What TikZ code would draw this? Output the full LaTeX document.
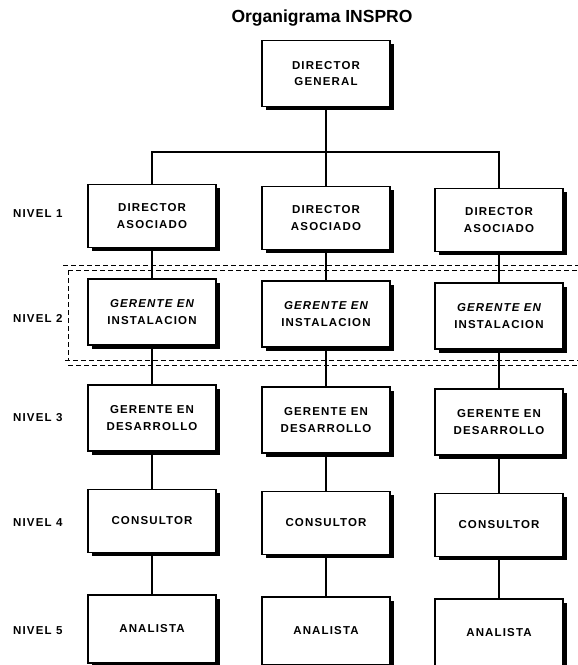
\documentclass[tikz,border=0pt]{standalone}
\usepackage{fontspec}
\setmainfont{Liberation Sans}
\usetikzlibrary{shadows}
\newcommand\orgfont{\fontsize{11.5}{16.5}\selectfont\bfseries\addfontfeature{LetterSpace=10}}
\begin{document}
\begin{tikzpicture}[x=1pt,y=-1pt,
  orgbox/.style={draw=black, line width=1.4pt, fill=white, minimum width=128pt,
    minimum height=66pt, inner sep=0pt, align=center, font=\orgfont,
    drop shadow={shadow xshift=3.5pt, shadow yshift=-3.5pt, fill=black, opacity=1}},
  link/.style={line width=1.3pt},
  band/.style={dash pattern=on 5pt off 3pt, line width=0.7pt},
  lvl/.style={anchor=west, font=\orgfont, inner sep=0pt},
  titlestyle/.style={font=\fontsize{17.5}{20}\selectfont\bfseries, inner sep=0pt}]
\useasboundingbox (0,0) rectangle (578,665);
% title
\node[titlestyle] (title) at (322,18) {Organigrama INSPRO};
% dashed band around level 2
\draw[band] (63,265) -- (578,265);
\draw[band] (68,270) -- (578,270);
\draw[band] (68,270) -- (68,360);
\draw[band] (65,360) -- (578,360);
\draw[band] (68,365) -- (578,365);
% boxes
\node[orgbox] (dg) at (326,73.5) {DIRECTOR\\GENERAL};
\node[orgbox, minimum height=63pt] (a1) at (152,216) {DIRECTOR\\ASOCIADO};
\node[orgbox, minimum height=63pt] (a2) at (326,218) {DIRECTOR\\ASOCIADO};
\node[orgbox, minimum height=63pt] (a3) at (499,220) {DIRECTOR\\ASOCIADO};
\node[orgbox] (b1) at (152,312) {{\itshape GERENTE EN}\\INSTALACION};
\node[orgbox] (b2) at (326,314) {{\itshape GERENTE EN}\\INSTALACION};
\node[orgbox] (b3) at (499,316) {{\itshape GERENTE EN}\\INSTALACION};
\node[orgbox] (c1) at (152,418) {GERENTE EN\\DESARROLLO};
\node[orgbox] (c2) at (326,420) {GERENTE EN\\DESARROLLO};
\node[orgbox] (c3) at (499,422) {GERENTE EN\\DESARROLLO};
\node[orgbox, minimum height=63pt] (d1) at (152,521) {CONSULTOR};
\node[orgbox, minimum height=63pt] (d2) at (326,523) {CONSULTOR};
\node[orgbox, minimum height=63pt] (d3) at (499,525) {CONSULTOR};
\node[orgbox, minimum height=68pt] (e1) at (152,629) {ANALISTA};
\node[orgbox, minimum height=68pt] (e2) at (326,631) {ANALISTA};
\node[orgbox, minimum height=68pt] (e3) at (499,633) {ANALISTA};
% level labels
\node[lvl] (n1) at (13,214) {NIVEL 1};
\node[lvl] (n2) at (13,318) {NIVEL 2};
\node[lvl] (n3) at (13,418) {NIVEL 3};
\node[lvl] (n4) at (13,523) {NIVEL 4};
\node[lvl] (n5) at (13,631) {NIVEL 5};
% connectors
\coordinate (bar) at (326,152);
\draw[link] (dg.south) -- (bar);
\draw[link] (bar) -| (a1.north);
\draw[link] (bar) -| (a3.north);
\draw[link] (bar) -- (a2.north);
\foreach \c in {1,2,3}{
  \draw[link] (a\c.south) -- (b\c.north);
  \draw[link] (b\c.south) -- (c\c.north);
  \draw[link] (c\c.south) -- (d\c.north);
  \draw[link] (d\c.south) -- (e\c.north);
}
\end{tikzpicture}
\end{document}
